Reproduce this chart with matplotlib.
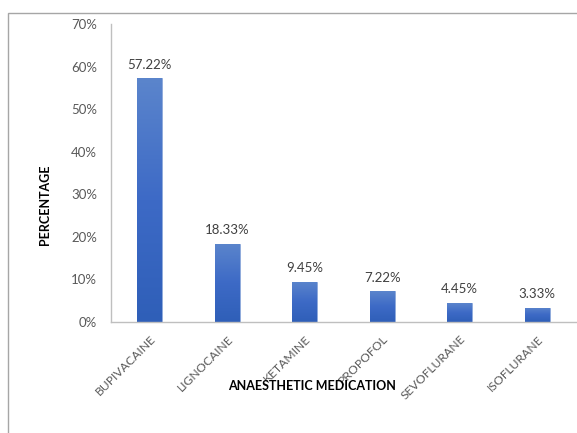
import matplotlib
matplotlib.use('Agg')
import matplotlib.pyplot as plt
import numpy as np
from matplotlib.colors import LinearSegmentedColormap
from matplotlib.patches import Rectangle

# anaesthetic usage shares
drugs = ['BUPIVACAINE', 'LIGNOCAINE', 'KETAMINE', 'PROPOFOL', 'SEVOFLURANE', 'ISOFLURANE']
share = [57.22, 18.33, 9.45, 7.22, 4.45, 3.33]
yticks = [0, 10, 20, 30, 40, 50, 60, 70]

plt.rcParams['font.family'] = ['Lato', 'DejaVu Sans']

fig = plt.figure(figsize=(5.77, 4.33), dpi=100)
# outer frame
fig.patches.append(Rectangle((8 / 577, -0.01), 1.0, 1 - 13 / 433 + 0.01, transform=fig.transFigure,
                             fill=False, edgecolor='#a6a6a6', linewidth=1.0))
ax = fig.add_axes([111 / 577, 1 - 322 / 433, 465 / 577, 298 / 433])

x = np.arange(len(drugs))
bars = ax.bar(x, share, width=0.32, color='#4472C4', edgecolor='#8faadc', linewidth=0.6, zorder=2)

# vertical gradient fill: lighter at top, darker at bottom
cmap = LinearSegmentedColormap.from_list('grad', ['#2f5fb8', '#3d6ac6', '#5b85cc'])
grad = np.linspace(0, 1, 256).reshape(-1, 1)
for b in bars:
    x0, w, h = b.get_x(), b.get_width(), b.get_height()
    im = ax.imshow(grad, cmap=cmap, aspect='auto', origin='lower',
                   extent=[x0, x0 + w, 0, h], zorder=2.5)
    im.set_clip_path(b)

for xi, v in zip(x, share):
    ax.text(xi, v + 1.8, f'{v:.2f}%', ha='center', va='bottom', fontsize=9.5, color='#404040')

ax.set_xlim(-0.5, len(drugs) - 0.5)
ax.set_ylim(0, 70)
ax.set_yticks(yticks)
ax.set_yticklabels([f'{t}%' for t in yticks], fontsize=9.5, color='#595959')
ax.set_xticks(x)
ax.set_xticklabels(drugs, rotation=45, ha='right', rotation_mode='anchor', fontsize=8.7, color='#595959')
ax.tick_params(axis='both', length=0)
ax.tick_params(axis='x', pad=8)
ax.tick_params(axis='y', pad=10)

for s in ['top', 'right']:
    ax.spines[s].set_visible(False)
for s in ['left', 'bottom']:
    ax.spines[s].set_color('#bfbfbf')
    ax.spines[s].set_linewidth(1.0)

fig.text(312 / 577, 1 - 386 / 433, 'ANAESTHETIC MEDICATION', ha='center', va='center',
         fontsize=9, fontweight='bold', color='black')
fig.text(45 / 577, 1 - 205 / 433, 'PERCENTAGE', ha='center', va='center', rotation=90,
         fontsize=9, fontweight='bold', color='black')

fig.savefig('out.png', dpi=100)
